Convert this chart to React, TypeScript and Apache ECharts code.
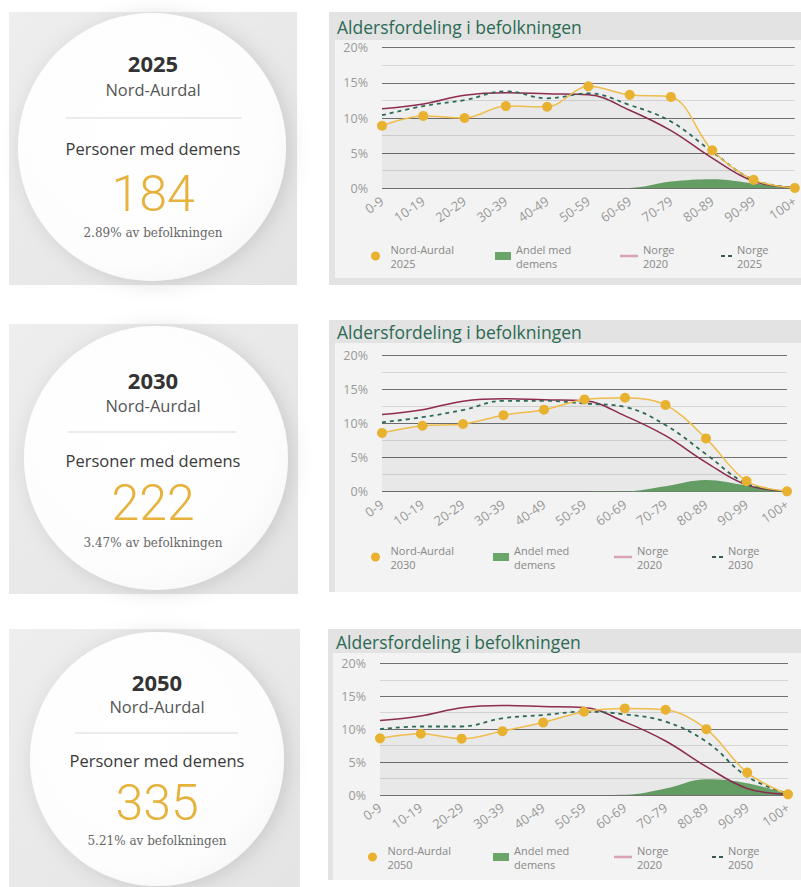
import React, { useEffect, useRef } from "react";
import * as echarts from "echarts";

const ageGroups = ["0-9", "10-19", "20-29", "30-39", "40-49", "50-59", "60-69", "70-79", "80-89", "90-99", "100+"];
const years = ["2025", "2030", "2050"];
const municipality = "Nord-Aurdal";
const dementiaCounts = ["184", "222", "335"];
const dementiaShares = ["2.89%", "3.47%", "5.21%"];
const chartTitle = "Aldersfordeling i befolkningen";

const nordAurdal2025 = [8.9, 10.3, 10.0, 11.7, 11.6, 14.5, 13.3, 13.0, 5.4, 1.2, 0.05];
const nordAurdal2030 = [8.6, 9.65, 9.9, 11.2, 12.0, 13.5, 13.75, 12.7, 7.8, 1.55, 0.05];
const nordAurdal2050 = [8.6, 9.3, 8.55, 9.7, 11.0, 12.65, 13.15, 12.95, 10.0, 3.4, 0.1];

const dementia2025 = [0, 0, 0, 0, 0, 0, 0.05, 0.95, 1.3, 0.7, 0.05];
const dementia2030 = [0, 0, 0, 0, 0, 0, 0.05, 0.8, 1.7, 0.9, 0.05];
const dementia2050 = [0, 0, 0, 0, 0, 0, 0.05, 1.0, 2.4, 1.8, 0.1];

const norge2020 = [11.3, 12.0, 13.25, 13.6, 13.45, 13.3, 11.1, 8.2, 4.3, 1.0, 0.1];
const norge2025 = [10.4, 11.7, 12.55, 13.8, 12.8, 13.5, 11.85, 9.5, 5.2, 1.2, 0.1];
const norge2030 = [10.15, 10.9, 11.95, 13.3, 13.3, 12.9, 12.4, 9.75, 5.5, 1.2, 0.1];
const norge2050 = [10.0, 10.4, 10.4, 11.65, 12.15, 12.65, 12.25, 11.15, 8.1, 2.8, 0.2];

const localSeries = [nordAurdal2025, nordAurdal2030, nordAurdal2050];
const dementiaSeries = [dementia2025, dementia2030, dementia2050];
const norgeProjection = [norge2025, norge2030, norge2050];

const layouts = [
  {
    card: { x: 9, y: 12, w: 288, h: 273 }, circle: { cx: 152, cy: 147, r: 134 }, tx: 153,
    ty: { year: 63, place: 89, line: 118, label: 148, num: 194, pct: 233 }, divider: [66, 242],
    panel: { x: 329, y: 12, w: 472, h: 273 }, inner: { x: 335, y: 40, w: 466, h: 238 }, titleY: 27,
    grid: { left: 382, top: 47.7, width: 414, height: 140.6 }, legendY: 256, legendX: [371, 495, 620, 721],
  },
  {
    card: { x: 9, y: 324, w: 289, h: 270 }, circle: { cx: 156, cy: 458, r: 132 }, tx: 153,
    ty: { year: 380, place: 405, line: 432, label: 460, num: 503, pct: 543 }, divider: [68, 236],
    panel: { x: 329, y: 320, w: 472, h: 272 }, inner: { x: 335, y: 343, w: 466, h: 249 }, titleY: 332,
    grid: { left: 382, top: 355, width: 405, height: 136.7 }, legendY: 557, legendX: [371, 493, 614, 712],
  },
  {
    card: { x: 9, y: 629, w: 291, h: 258 }, circle: { cx: 157, cy: 759, r: 127 }, tx: 157,
    ty: { year: 682, place: 706, line: 733, label: 760, num: 803, pct: 841 }, divider: [75, 238],
    panel: { x: 328, y: 629, w: 473, h: 251 }, inner: { x: 333, y: 653, w: 468, h: 227 }, titleY: 642,
    grid: { left: 380, top: 663.3, width: 408, height: 131.7 }, legendY: 857, legendX: [368, 493, 614, 712],
  },
];

const SANS = "'Open Sans', 'Noto Sans', sans-serif";
const YELLOW = "#e8b130";
const GREEN = "#6aa56a";
const MAROON = "#8e2c52";
const DARKGREEN = "#2e6a58";

export default function App() {
  const ref = useRef<HTMLDivElement>(null);

  useEffect(() => {
    if (!ref.current) return;
    const chart = echarts.init(ref.current, undefined, { renderer: "svg" });

    const graphic: any[] = [];
    const grids: any[] = [];
    const xAxes: any[] = [];
    const yAxes: any[] = [];
    const series: any[] = [];
    const legends: any[] = [];

    layouts.forEach((L, i) => {
      graphic.push({
        type: "rect", z: -10,
        shape: { x: L.card.x, y: L.card.y, width: L.card.w, height: L.card.h },
        style: {
          fill: new echarts.graphic.LinearGradient(0, 0, 1, 1, [
            { offset: 0, color: "#eeeeee" },
            { offset: 1, color: "#e4e4e4" },
          ]),
        },
      });
      graphic.push({
        type: "circle", z: -9,
        shape: { cx: L.circle.cx, cy: L.circle.cy, r: L.circle.r },
        style: {
          fill: new echarts.graphic.RadialGradient(0.42, 0.4, 0.75, [
            { offset: 0, color: "#ffffff" },
            { offset: 0.7, color: "#fdfdfd" },
            { offset: 1, color: "#f3f3f3" },
          ]),
          shadowBlur: 20,
          shadowColor: "rgba(0,0,0,0.13)",
          shadowOffsetX: 4,
          shadowOffsetY: 2,
        },
      });
      const t = (text: string, y: number, size: number, color: string, weight: any = "normal", family = SANS) => ({
        type: "text", z: 10, x: L.tx, y,
        style: {
          text, fill: color, fontSize: size, fontWeight: weight, fontFamily: family,
          align: "center", verticalAlign: "middle",
        },
      });
      graphic.push(t(years[i], L.ty.year, 22, "#333333", "bold"));
      graphic.push(t(municipality, L.ty.place, 16.5, "#555555"));
      graphic.push({
        type: "line", z: 10,
        shape: { x1: L.divider[0], y1: L.ty.line, x2: L.divider[1], y2: L.ty.line },
        style: { stroke: "#d8d8d8", lineWidth: 1 },
      });
      graphic.push(t("Personer med demens", L.ty.label, 16.5, "#3a3a3a"));
      graphic.push(t(dementiaCounts[i], L.ty.num, 50, "#e6b23c", 300, "Roboto, 'Open Sans', sans-serif"));
      graphic.push(t(`${dementiaShares[i]} av befolkningen`, L.ty.pct, 12, "#666666", "normal", "'DejaVu Serif', serif"));

      graphic.push({
        type: "rect", z: -10,
        shape: { x: L.panel.x, y: L.panel.y, width: L.panel.w, height: L.panel.h },
        style: { fill: "#e3e3e3" },
      });
      graphic.push({
        type: "rect", z: -9,
        shape: { x: L.inner.x, y: L.inner.y, width: L.inner.w, height: L.inner.h },
        style: { fill: "#f3f3f3" },
      });
      graphic.push({
        type: "text", z: 10, x: L.panel.x + 8, y: L.titleY,
        style: { text: chartTitle, fill: "#2b6a52", fontSize: 17.5, fontFamily: SANS, align: "left", verticalAlign: "middle" },
      });

      grids.push({ left: L.grid.left, top: L.grid.top, width: L.grid.width, height: L.grid.height, containLabel: false });
      xAxes.push({
        type: "category", gridIndex: i, data: ageGroups, boundaryGap: false,
        axisLine: { show: false }, axisTick: { show: false },
        axisLabel: { rotate: 35, interval: 0, color: "#999999", fontSize: 13, fontFamily: SANS, margin: 11 },
        splitLine: { show: false },
      });
      yAxes.push({
        type: "value", gridIndex: i, min: 0, max: 20, interval: 5,
        axisLine: { show: false }, axisTick: { show: false },
        axisLabel: { formatter: "{value}%", color: "#9a9a9a", fontSize: 12.5, fontFamily: SANS, margin: 14 },
        splitLine: { show: true, lineStyle: { color: "#707070", width: 1 } },
        minorTick: { show: false, splitNumber: 2 },
        minorSplitLine: { show: true, lineStyle: { color: "#d6d6d6", width: 1 } },
      });

      const localName = `${municipality}\n${years[i]}`;
      const projName = `Norge\n${years[i]}`;
      series.push({
        name: "Andel med\ndemens", type: "line", xAxisIndex: i, yAxisIndex: i, data: dementiaSeries[i],
        smooth: 0.4, showSymbol: false, symbol: "none", z: 2,
        lineStyle: { width: 0, color: GREEN }, itemStyle: { color: GREEN },
        areaStyle: { color: GREEN, opacity: 1 },
      });
      series.push({
        name: "Norge\n2020", type: "line", xAxisIndex: i, yAxisIndex: i, data: norge2020,
        smooth: 0.4, showSymbol: false, symbol: "none", z: 3,
        lineStyle: { width: 1.5, color: MAROON }, itemStyle: { color: MAROON },
        areaStyle: { color: "rgba(0,0,0,0.03)" },
      });
      series.push({
        name: projName, type: "line", xAxisIndex: i, yAxisIndex: i, data: norgeProjection[i],
        smooth: 0.4, showSymbol: false, symbol: "none", z: 4,
        lineStyle: { width: 1.8, color: DARKGREEN, type: [4, 4] }, itemStyle: { color: DARKGREEN },
      });
      series.push({
        name: localName, type: "line", xAxisIndex: i, yAxisIndex: i, data: localSeries[i],
        smooth: 0.35, symbol: "circle", symbolSize: 10, showSymbol: true, z: 5,
        lineStyle: { width: 1.5, color: "#eebd4c" }, itemStyle: { color: YELLOW },
        areaStyle: { color: "rgba(0,0,0,0.035)" },
      });

      const legendItems = [
        { name: localName, icon: "circle", w: 20, h: 9, color: YELLOW },
        { name: "Andel med\ndemens", icon: "rect", w: 16, h: 8, color: GREEN },
        { name: "Norge\n2020", icon: "path://M0,0H18V2.5H0Z", w: 18, h: 2.5, color: "#d7a3b5" },
        { name: projName, icon: "path://M0,0H4V2H0Z M7,0H11V2H7Z", w: 11, h: 2, color: "#3a5a50" },
      ];
      legendItems.forEach((it, k) => {
        legends.push({
          left: L.legendX[k], top: L.legendY - 14, padding: 0,
          orient: "horizontal", selectedMode: false,
          itemWidth: it.w, itemHeight: it.h, symbolKeepAspect: true,
          data: [{ name: it.name, icon: it.icon, itemStyle: { color: it.color } }],
          textStyle: { color: "#888888", fontSize: 11, lineHeight: 14, fontFamily: SANS },
        });
      });
    });

    chart.setOption({
      animation: false,
      backgroundColor: "#ffffff",
      graphic: { elements: graphic },
      grid: grids,
      xAxis: xAxes,
      yAxis: yAxes,
      legend: legends,
      series,
    });

    return () => chart.dispose();
  }, []);

  return (
    <div
      ref={ref}
      style={{ position: "absolute", left: 0, top: 0, width: 801, height: 887, background: "#fff" }}
    />
  );
}
